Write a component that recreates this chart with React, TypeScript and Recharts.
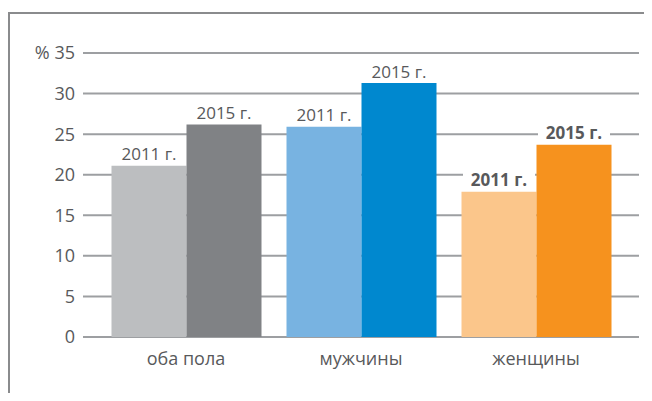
import { Bar, BarChart, CartesianGrid, Cell, LabelList, XAxis, YAxis } from "recharts";

const categories = ["оба пола", "мужчины", "женщины"];
const values2011 = [21.1, 25.9, 17.9];
const values2015 = [26.2, 31.3, 23.7];
const yTicks = [0, 5, 10, 15, 20, 25, 30, 35];

const colors2011 = ["#bcbec0", "#78b3e1", "#fbc68b"];
const colors2015 = ["#808285", "#0088cf", "#f6921e"];

const data = categories.map((name, i) => ({
  name,
  y2011: values2011[i],
  y2015: values2015[i],
}));

const textColor = "#58595b";
const font = "'Open Sans', sans-serif";

// label above each bar; the women's group gets bold text on a white box
function makeLabel(text: string) {
  return (props: any) => {
    const { x, y, width, index } = props;
    const cx = x + width / 2;
    const cy = y - 12;
    const bold = index === 2;
    return (
      <g>
        {bold && <rect x={cx - 36} y={cy - 9} width={72} height={18} fill="#fff" />}
        <text
          x={cx}
          y={cy}
          textAnchor="middle"
          dominantBaseline="central"
          fill={textColor}
          fontSize={17}
          fontWeight={bold ? 700 : 400}
          fontFamily={font}
        >
          {text}
        </text>
      </g>
    );
  };
}

export default function App() {
  return (
    <div style={{ position: "relative", width: 652, height: 401, margin: -8, overflow: "hidden", background: "#fff" }}>
      <div
        style={{
          position: "absolute",
          left: 8,
          top: 12,
          width: 700,
          height: 450,
          borderTop: "2px solid #8a8b8d",
          borderLeft: "2px solid #8a8b8d",
        }}
      />
      <div style={{ position: "absolute", left: 0, top: 0 }}>
        <BarChart
          width={652}
          height={401}
          data={data}
          margin={{ top: 53, right: 13, left: 8, bottom: 34 }}
          barCategoryGap={13}
          barGap={0}
        >
          <CartesianGrid vertical={false} stroke="#9d9fa2" strokeWidth={2} />
          <XAxis
            dataKey="name"
            axisLine={false}
            tickLine={false}
            tickMargin={9}
            padding={{ left: 15.5, right: 15.5 }}
            tick={{ fill: textColor, fontSize: 18, fontFamily: font }}
          />
          <YAxis
            width={75}
            domain={[0, 35]}
            ticks={yTicks}
            axisLine={false}
            tickLine={false}
            interval={0}
            tickFormatter={(v) => (v === 35 ? "% 35" : String(v))}
            tick={{ fill: textColor, fontSize: 18, fontFamily: font }}
          />
          <Bar dataKey="y2011" isAnimationActive={false}>
            {data.map((_, i) => (
              <Cell key={i} fill={colors2011[i]} />
            ))}
            <LabelList dataKey="y2011" content={makeLabel("2011 г.")} />
          </Bar>
          <Bar dataKey="y2015" isAnimationActive={false}>
            {data.map((_, i) => (
              <Cell key={i} fill={colors2015[i]} />
            ))}
            <LabelList dataKey="y2015" content={makeLabel("2015 г.")} />
          </Bar>
        </BarChart>
      </div>
    </div>
  );
}
